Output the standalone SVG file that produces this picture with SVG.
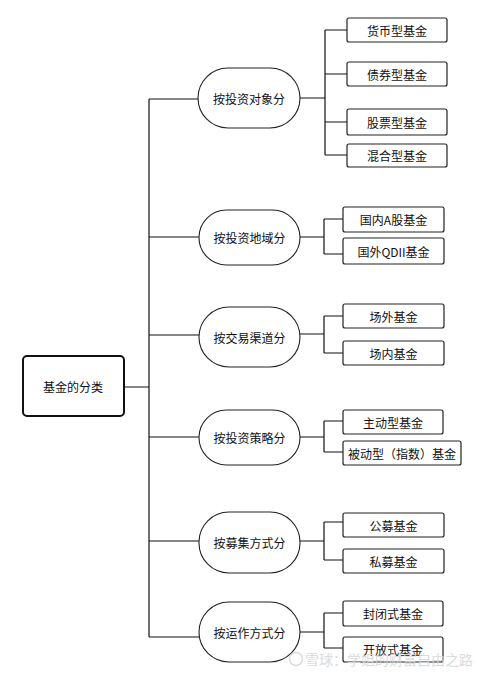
<svg xmlns="http://www.w3.org/2000/svg" width="477" height="674" viewBox="0 0 477 674">
<style>
text{font-family:"Noto Sans CJK SC","Liberation Sans",sans-serif;font-size:12px;fill:#111;text-anchor:middle;dominant-baseline:central}
.cat{fill:#fff;stroke:#222;stroke-width:1.1}
.leaf{fill:#fff;stroke:#222;stroke-width:1.2}
.c{fill:none;stroke:#111;stroke-width:1.2}
.wm{font-size:14px;fill:#d8d8d8;text-anchor:start}
</style>
<rect width="477" height="674" fill="#fff"/>
<g id="connectors">
<path class="c" d="M124 387H149M149 99V637"/>
<path class="c" d="M149 99H199M149 237H199M149 335H199M149 437H199M149 541H199M149 637H199"/>
<path class="c" d="M300 98H325M325 30V155M325 30H347M325 74H347M325 122H347M325 155H347"/>
<path class="c" d="M300 237H324M324 219V254M324 219H343M324 254H343"/>
<path class="c" d="M300 334H324M324 316V353M324 316H343M324 353H343"/>
<path class="c" d="M300 437H324M324 421V452M324 421H343M324 452H343"/>
<path class="c" d="M300 541H324M324 522V560M324 522H343M324 560H343"/>
<path class="c" d="M300 632H324M324 613V648M324 613H343M324 648H343"/>
</g>
<g id="root"><rect x="23" y="356" width="101" height="60" rx="4" fill="#fff" stroke="#111" stroke-width="2"/><text x="73" y="386">基金的分类</text></g>
<g id="cat1"><rect class="cat" x="198" y="68" width="102" height="60" rx="30"/><text x="249" y="98">按投资对象分</text></g>
<g id="cat2"><rect class="cat" x="199" y="210" width="101" height="55" rx="27.5"/><text x="249.5" y="237">按投资地域分</text></g>
<g id="cat3"><rect class="cat" x="199" y="307" width="101" height="60" rx="30"/><text x="249.5" y="337">按交易渠道分</text></g>
<g id="cat4"><rect class="cat" x="199" y="410" width="101" height="55" rx="27.5"/><text x="249.5" y="437">按投资策略分</text></g>
<g id="cat5"><rect class="cat" x="199" y="512" width="101" height="61" rx="30"/><text x="249.5" y="542">按募集方式分</text></g>
<g id="cat6"><rect class="cat" x="199" y="602" width="101" height="60" rx="30"/><text x="249.5" y="632">按运作方式分</text></g>
<g id="leaf1"><rect class="leaf" x="347" y="18" width="100" height="24" rx="2"/><text x="397" y="30">货币型基金</text></g>
<g id="leaf2"><rect class="leaf" x="347" y="62" width="100" height="24" rx="2"/><text x="397" y="74">债券型基金</text></g>
<g id="leaf3"><rect class="leaf" x="347" y="109" width="100" height="26" rx="2"/><text x="397" y="122">股票型基金</text></g>
<g id="leaf4"><rect class="leaf" x="347" y="144" width="100" height="23" rx="2"/><text x="397" y="155.5">混合型基金</text></g>
<g id="leaf5"><rect class="leaf" x="343" y="207" width="101" height="25" rx="2"/><text x="393.5" y="219.5">国内A股基金</text></g>
<g id="leaf6"><rect class="leaf" x="343" y="238" width="101" height="26" rx="2"/><text x="393.5" y="251">国外QDII基金</text></g>
<g id="leaf7"><rect class="leaf" x="343" y="304" width="101" height="24" rx="2"/><text x="393.5" y="316">场外基金</text></g>
<g id="leaf8"><rect class="leaf" x="343" y="341" width="101" height="24" rx="2"/><text x="393.5" y="353">场内基金</text></g>
<g id="leaf9"><rect class="leaf" x="343" y="410" width="100" height="24" rx="2"/><text x="393" y="422">主动型基金</text></g>
<g id="leaf10"><rect class="leaf" x="343" y="441" width="118" height="24" rx="2"/><text x="402" y="453">被动型（指数）基金</text></g>
<g id="leaf11"><rect class="leaf" x="343" y="513" width="101" height="24" rx="2"/><text x="393.5" y="525">公募基金</text></g>
<g id="leaf12"><rect class="leaf" x="343" y="549" width="101" height="24" rx="2"/><text x="393.5" y="561">私募基金</text></g>
<g id="leaf13"><rect class="leaf" x="343" y="601" width="100" height="25" rx="2"/><text x="393" y="613.5">封闭式基金</text></g>
<g id="leaf14"><rect class="leaf" x="343" y="637" width="100" height="25" rx="2"/><text x="393" y="649.5">开放式基金</text></g>
<g id="watermark" opacity="0.9"><circle cx="296" cy="659" r="6.5" fill="none" stroke="#d8d8d8" stroke-width="1.5"/><text class="wm" x="305" y="659">雪球：学姐的财富自由之路</text></g>
</svg>
